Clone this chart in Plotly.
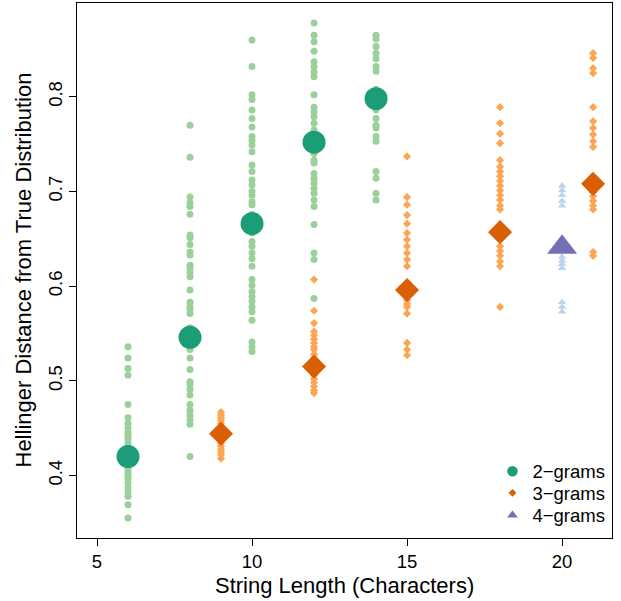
import plotly.graph_objects as go

# ---- data ----
two_x = [6, 8, 10, 12, 14]
two_means = [0.420, 0.546, 0.666, 0.752, 0.798]
two_points = {
    6: [0.536, 0.524, 0.513, 0.506, 0.475, 0.461, 0.455, 0.450, 0.446, 0.443,
        0.439, 0.435, 0.431, 0.427, 0.424, 0.420, 0.416, 0.413, 0.410, 0.406,
        0.403, 0.399, 0.396, 0.392, 0.387, 0.382, 0.378, 0.369, 0.355],
    8: [0.770, 0.736, 0.694, 0.688, 0.684, 0.676, 0.654, 0.651, 0.644, 0.636,
        0.633, 0.622, 0.619, 0.614, 0.610, 0.596, 0.583, 0.578, 0.575, 0.571,
        0.556, 0.540, 0.533, 0.524, 0.512, 0.499, 0.496, 0.491, 0.485, 0.475,
        0.469, 0.464, 0.459, 0.454, 0.420],
    10: [0.860, 0.832, 0.802, 0.797, 0.786, 0.777, 0.768, 0.758, 0.754, 0.749,
         0.742, 0.728, 0.721, 0.712, 0.707, 0.700, 0.696, 0.689, 0.686, 0.676,
         0.656, 0.647, 0.642, 0.635, 0.629, 0.621, 0.607, 0.601, 0.594, 0.589,
         0.584, 0.578, 0.573, 0.564, 0.541, 0.536, 0.531],
    12: [0.878, 0.865, 0.858, 0.848, 0.837, 0.832, 0.826, 0.821, 0.802, 0.789,
         0.784, 0.779, 0.772, 0.765, 0.760, 0.745, 0.740, 0.733, 0.730, 0.719,
         0.714, 0.709, 0.703, 0.698, 0.691, 0.684, 0.665, 0.635, 0.628, 0.587],
    14: [0.865, 0.861, 0.853, 0.846, 0.840, 0.832, 0.827, 0.808, 0.786, 0.777,
         0.770, 0.767, 0.758, 0.753, 0.721, 0.714, 0.698, 0.691],
}

three_x = [9, 12, 15, 18, 21]
three_means = [0.444, 0.515, 0.596, 0.657, 0.708]
three_points = {
    9: [0.467, 0.464, 0.461, 0.458, 0.455, 0.452, 0.449, 0.446, 0.441, 0.437,
        0.434, 0.431, 0.428, 0.425, 0.422, 0.418],
    12: [0.607, 0.574, 0.561, 0.552, 0.548, 0.544, 0.540, 0.536, 0.533, 0.528,
         0.524, 0.506, 0.502, 0.498, 0.494, 0.490, 0.487],
    15: [0.737, 0.694, 0.686, 0.675, 0.666, 0.656, 0.649, 0.642, 0.635, 0.628,
         0.621, 0.585, 0.581, 0.578, 0.571, 0.540, 0.533, 0.527],
    18: [0.789, 0.772, 0.761, 0.751, 0.733, 0.726, 0.721, 0.716, 0.711, 0.706,
         0.701, 0.696, 0.691, 0.685, 0.681, 0.642, 0.637, 0.632, 0.626, 0.621,
         0.578],
    21: [0.846, 0.841, 0.830, 0.825, 0.789, 0.774, 0.767, 0.760, 0.753, 0.747,
         0.699, 0.695, 0.690, 0.685, 0.681, 0.636, 0.632],
}

four_x = [20]
four_means = [0.641]
four_points = {
    20: [0.706, 0.701, 0.696, 0.690, 0.685, 0.631, 0.627, 0.623, 0.619,
         0.583, 0.578, 0.573],
}

legend_labels = ["2\u2212grams", "3\u2212grams", "4\u2212grams"]
x_ticks = [5, 10, 15, 20]
y_ticks = [0.4, 0.5, 0.6, 0.7, 0.8]
x_title = "String Length (Characters)"
y_title = "Hellinger Distance from True Distribution"

# ---- styles ----
dark = ["#1B9E77", "#D95F02", "#7570B3"]
light = ["#9BD09B", "#FDA553", "#BED3EE"]
symbols = ["circle", "diamond", "triangle-up"]
small_sizes = [7, 6.3, 7.5]
big_sizes = [23, 18.5, 26]
legend_sizes = [10.5, 6, 9.5]
legend_ypos = [0.124, 0.0835, 0.0417]

groups = [
    (two_points, two_x, two_means),
    (three_points, three_x, three_means),
    (four_points, four_x, four_means),
]

fig = go.Figure()
for i, (pts, mx, my) in enumerate(groups):
    xs, ys = [], []
    for k, vals in pts.items():
        xs += [k] * len(vals)
        ys += vals
    fig.add_trace(go.Scatter(
        x=xs, y=ys, mode="markers", showlegend=False, hoverinfo="skip",
        marker=dict(symbol=symbols[i], size=small_sizes[i], color=light[i],
                    line=dict(width=0)),
    ))
    fig.add_trace(go.Scatter(
        x=mx, y=my, mode="markers", showlegend=False,
        marker=dict(symbol=symbols[i], size=big_sizes[i], color=dark[i],
                    line=dict(width=0)),
    ))

legend_names = ["legend", "legend2", "legend3"]
for i, lab in enumerate(legend_labels):
    fig.add_trace(go.Scatter(
        x=[None], y=[None], mode="markers", name=lab, legend=legend_names[i],
        marker=dict(symbol=symbols[i], size=legend_sizes[i], color=dark[i],
                    line=dict(width=0)),
    ))

font_family = "Liberation Sans, Arial, sans-serif"
legend_common = dict(xanchor="left", yanchor="middle", x=0.7766,
                     bgcolor="rgba(0,0,0,0)", borderwidth=0,
                     font=dict(size=18.5), itemwidth=30)
fig.update_layout(
    width=621, height=601,
    margin=dict(l=77, r=9, t=3, b=63),
    plot_bgcolor="white", paper_bgcolor="white",
    font=dict(family=font_family, size=18.5, color="black"),
    legend=dict(y=legend_ypos[0], **legend_common),
    legend2=dict(y=legend_ypos[1], **legend_common),
    legend3=dict(y=legend_ypos[2], **legend_common),
    xaxis=dict(
        range=[4.355, 21.61], tickvals=x_ticks, ticktext=[str(t) for t in x_ticks],
        showgrid=False, zeroline=False, showline=True, linecolor="black",
        linewidth=1, mirror=True, ticks="outside", ticklen=7, tickcolor="black",
        tickfont=dict(size=18.5), automargin=False,
    ),
    yaxis=dict(
        range=[0.334, 0.899], tickvals=y_ticks, ticktext=[str(t) for t in y_ticks],
        showgrid=False, zeroline=False, showline=True, linecolor="black",
        linewidth=1, mirror=True, ticks="outside", ticklen=7, tickcolor="black",
        tickangle=-90, tickfont=dict(size=18.5), automargin=False,
    ),
    annotations=[
        dict(text=x_title, xref="paper", yref="paper", x=0.5, y=0,
             xanchor="center", yanchor="middle", yshift=-47, showarrow=False,
             font=dict(size=22)),
        dict(text=y_title, xref="paper", yref="paper", x=0, y=0.5,
             xanchor="center", yanchor="middle", xshift=-54, showarrow=False,
             textangle=-90, font=dict(size=22)),
    ],
)

fig.write_html(
    "out.html",
    config={"displayModeBar": False},
    post_script="document.body.style.margin='0';document.body.style.overflow='hidden';",
)
